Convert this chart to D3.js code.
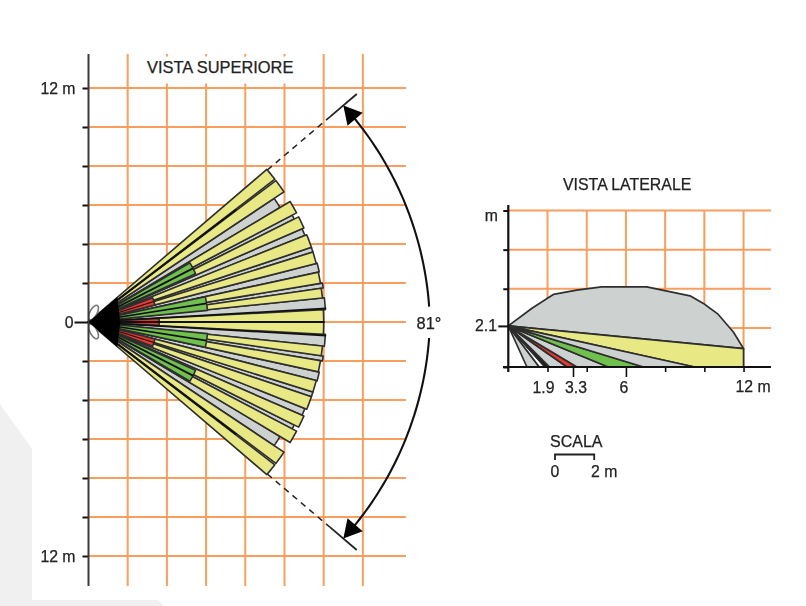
<!DOCTYPE html>
<html>
<head>
<meta charset="utf-8">
<style>
  html, body { margin: 0; padding: 0; background: #fff; }
  svg { display: block; filter: blur(0.6px); }
  text { font-family: "Liberation Sans", Arial, sans-serif; fill: #222; stroke: #222; stroke-width: 0.25px; }
</style>
</head>
<body>
<div class="chart"></div>
<script src="https://cdnjs.cloudflare.com/ajax/libs/d3/7.8.5/d3.min.js"></script>
<script>
// values, metres and degrees
const yellowBeams = [[0, 3, 12], [5.9, 8.3, 12], [9.5, 12.3, 12], [14.5, 17.4, 12], [18.6, 21.9, 12],
  [23.7, 26.7, 12], [27.8, 31, 12], [33.8, 37.2, 12], [37.6, 40.7, 12]];
const greyBeams = [[3, 5.9, 12.1], [8.3, 9.5, 12.1], [12.3, 14.5, 12.05], [17.4, 18.6, 12],
  [21.9, 23.7, 11.9], [26.7, 27.8, 11.75], [31, 33.8, 11.4]];
const greenBeams = [[5.6, 12.3, 6.1], [24.4, 30.4, 6]];
const redBeams = [[-2.8, 2.6, 3.6], [14.5, 20.8, 3.5]];
const darkRays = [[0, 12.05, 1.9], [3.3, 12.15, 1.6], [9, 6.1, 1.6], [27.3, 6, 1.8], [17.5, 3.5, 1.2], [37.4, 9.5, 1.8]];
const topYTicks = [-12, -10, -8, -6, -4, -2, 0, 2, 4, 6, 8, 10, 12];
const topXGrid = [2, 4, 6, 8, 10, 12, 14];
const coverAngle = 40.5;

const capOutline = [[0, 2.1], [1.19, 2.99], [2.3, 3.71], [3.49, 3.93], [4.76, 4.1], [7.06, 4.1],
  [9.27, 3.64], [9.95, 3.25], [10.7, 2.7], [11.48, 1.79], [12, 0.94]];
const groundBands = [
  { from: 0.95, to: 1.58, color: "#cdd2d0" },
  { from: 1.58, to: 1.87, color: "#ffffff" },
  { from: 1.87, to: 2.1, color: "#1a1a1a" },
  { from: 2.1, to: 3.0, color: "#cdd2d0" },
  { from: 3.0, to: 3.5, color: "#e8392f" },
  { from: 3.5, to: 5.1, color: "#cdd2d0" },
  { from: 5.1, to: 6.9, color: "#6fc04c" },
  { from: 6.9, to: 9.5, color: "#cdd2d0" },
];
const sideYTicks = [0, 2.1, 4, 6, 8];
const sideXTicks = [2, 4, 6, 8, 10, 12];
const sideXLabels = [1.9, 3.3, 6];
const sideApexHeight = 2.1;

const orange = "#f99e5e";
const dark = "#2e2e2e";
const labelSize = 15.8;

const svg = d3.select(".chart").append("svg").attr("width", 806).attr("height", 606);

// pale page shapes behind the drawing
svg.append("path")
  .attr("d", "M0,404L32,449L32,600L158,600L164,606L0,606Z")
  .attr("fill", "#f0f0f0");

// ---- top view
const topX = d3.scaleLinear().domain([0, 16.2]).range([88.5, 406]);
const topY = d3.scaleLinear().domain([-12, 12]).range([556, 88]);

const polar = (deg, r) => [topX(r * Math.cos(deg * Math.PI / 180)), topY(r * Math.sin(deg * Math.PI / 180))];
const lineGen = d3.line();

function wedgePath(a0, a1, r) {
  // apex, then the arc out at radius r
  const steps = d3.range(0, 7).map((i) => a0 + (a1 - a0) * i / 6);
  return lineGen([polar(0, 0)].concat(steps.map((a) => polar(a, r)))) + "Z";
}

const topGrid = svg.append("g").attr("stroke", orange).attr("stroke-width", 2);
topGrid.selectAll("line.h").data(topYTicks).join("line").attr("class", "h")
  .attr("x1", topX(0)).attr("x2", topX.range()[1])
  .attr("y1", (d) => topY(d)).attr("y2", (d) => topY(d));
topGrid.selectAll("line.v").data(topXGrid).join("line").attr("class", "v")
  .attr("x1", (d) => topX(d)).attr("x2", (d) => topX(d))
  .attr("y1", 54).attr("y2", 586);

// title sits on a white patch that cuts the grid
svg.append("rect").attr("x", 142).attr("y", 56.5).attr("width", 158).attr("height", 27).attr("fill", "#fff");
svg.append("text").attr("x", 147).attr("y", 73).attr("font-size", 16.4).text("VISTA SUPERIORE");

// both halves of the fan are mirrored
const mirrored = (list) => list.concat(list.map((b) => [-b[1], -b[0], b[2]]));

function drawBeams(list, color) {
  svg.append("g").selectAll("path").data(mirrored(list)).join("path")
    .attr("d", (d) => wedgePath(d[0], d[1], d[2]))
    .attr("fill", color)
    .attr("stroke", dark)
    .attr("stroke-width", 1.6)
    .attr("stroke-linejoin", "round");
}
drawBeams(greyBeams, "#cdd2d0");
drawBeams(yellowBeams, "#e8e884");
drawBeams(greenBeams, "#6fc04c");
drawBeams(redBeams, "#e8392f");

// dark lines inside the fan
svg.append("g").selectAll("line")
  .data(darkRays.concat(darkRays.filter((d) => d[0] !== 0).map((d) => [-d[0], d[1], d[2]])))
  .join("line")
  .attr("x1", polar(0, 0)[0]).attr("y1", polar(0, 0)[1])
  .attr("x2", (d) => polar(d[0], d[1])[0]).attr("y2", (d) => polar(d[0], d[1])[1])
  .attr("stroke", "#111").attr("stroke-width", (d) => d[2]);

// sensor lobes and the solid black apex
svg.append("g").selectAll("ellipse").data([62, -62]).join("ellipse")
  .attr("cx", (d) => polar(d, 0.55)[0]).attr("cy", (d) => polar(d, 0.55)[1])
  .attr("rx", 8).attr("ry", 3.6)
  .attr("transform", (d) => `rotate(${-d} ${polar(d, 0.55)[0]} ${polar(d, 0.55)[1]})`)
  .attr("fill", "#fff").attr("stroke", "#777").attr("stroke-width", 1.6);
svg.append("path")
  .attr("d", lineGen([polar(0, 0), polar(41, 1.95), polar(0, 1.62), polar(-41, 1.95)]) + "Z")
  .attr("fill", "#000");

// y axis of the top view
const topAxis = svg.append("g").attr("transform", `translate(${topX(0)},0)`)
  .call(d3.axisLeft(topY).tickValues(topYTicks).tickSize(6)
    .tickFormat((d) => (d === 0 ? "0" : Math.abs(d) === 12 ? "12 m" : "")));
topAxis.select(".domain").remove();
topAxis.selectAll(".tick line").attr("stroke", "#111").attr("stroke-width", 2)
  .attr("x2", (d) => (d === 0 ? -14 : -6));
topAxis.selectAll(".tick text")
  .attr("x", (d) => (d === 0 ? -15 : -13))
  .attr("font-size", labelSize).attr("fill", "#222")
  .style("font-family", '"Liberation Sans", Arial, sans-serif');
svg.append("line").attr("x1", topX(0)).attr("x2", topX(0)).attr("y1", 54).attr("y2", 586)
  .attr("stroke", "#3a3a3a").attr("stroke-width", 2);

// coverage limits: dashed then solid, out to the arrow heads
[coverAngle, -coverAngle].forEach((a) => {
  svg.append("line")
    .attr("x1", polar(a, 12)[0]).attr("y1", polar(a, 12)[1])
    .attr("x2", polar(a, 16.2)[0]).attr("y2", polar(a, 16.2)[1])
    .attr("stroke", "#222").attr("stroke-width", 1.5).attr("stroke-dasharray", "6 5");
  svg.append("line")
    .attr("x1", polar(a, 16.2)[0]).attr("y1", polar(a, 16.2)[1])
    .attr("x2", polar(a, 18)[0]).attr("y2", polar(a, 18)[1])
    .attr("stroke", "#222").attr("stroke-width", 1.8);
});

// 81 degree arc, broken around its label; it bulges a little past a true circle at mid height
const arcRadius = (deg) => 17.1 + 0.32 * (1 - Math.abs(deg) / coverAngle);
[[38, 2.6], [-2.7, -38]].forEach((span) => {
  const pts = d3.range(0, 41).map((i) => {
    const a = span[0] + (span[1] - span[0]) * i / 40;
    return polar(a, arcRadius(a));
  });
  svg.append("path").attr("d", lineGen(pts)).attr("fill", "none").attr("stroke", "#111").attr("stroke-width", 2.1);
});

// arrow heads point along the arc towards the limit lines
[1, -1].forEach((side) => {
  const tip = polar(side * coverAngle, arcRadius(coverAngle));
  const base = polar(side * (coverAngle - 3.1), arcRadius(coverAngle - 3.1));
  const dx = tip[0] - base[0];
  const dy = tip[1] - base[1];
  const len = Math.hypot(dx, dy);
  const nx = -dy / len * 10;
  const ny = dx / len * 10;
  svg.append("path")
    .attr("d", lineGen([tip, [base[0] + nx, base[1] + ny], [base[0] - nx, base[1] - ny]]) + "Z")
    .attr("fill", "#000");
});

svg.append("text").attr("x", 429).attr("y", 328.5).attr("text-anchor", "middle")
  .attr("font-size", 16.4).text("81°");

// ---- side view
const sideX = d3.scaleLinear().domain([0, 13.4]).range([508.3, 771]);
const sideY = d3.scaleLinear().domain([0, 8]).range([367, 210.5]);
const sidePt = (d) => [sideX(d[0]), sideY(d[1])];

svg.append("text").attr("x", 563).attr("y", 190).attr("font-size", 15.9).text("VISTA LATERALE");

const sideGrid = svg.append("g").attr("stroke", orange).attr("stroke-width", 2);
sideGrid.selectAll("line.h").data([2, 4, 6, 8]).join("line").attr("class", "h")
  .attr("x1", sideX(0)).attr("x2", sideX.range()[1])
  .attr("y1", (d) => sideY(d)).attr("y2", (d) => sideY(d));
sideGrid.selectAll("line.v").data(sideXTicks).join("line").attr("class", "v")
  .attr("x1", (d) => sideX(d)).attr("x2", (d) => sideX(d))
  .attr("y1", sideY(8)).attr("y2", sideY(0));

const last = capOutline[capOutline.length - 1];
const sideStroke = (sel) => sel.attr("stroke", dark).attr("stroke-width", 1.7).attr("stroke-linejoin", "round");

svg.append("path").attr("d", lineGen(capOutline.map(sidePt)) + "Z").attr("fill", "#cdd2d0").call(sideStroke);
svg.append("path")
  .attr("d", lineGen([[0, sideApexHeight], last, [last[0], 0], [9.5, 0]].map(sidePt)) + "Z")
  .attr("fill", "#e8e884").call(sideStroke);
svg.append("g").selectAll("path").data(groundBands).join("path")
  .attr("d", (d) => lineGen([[0, sideApexHeight], [d.from, 0], [d.to, 0]].map(sidePt)) + "Z")
  .attr("fill", (d) => d.color)
  .call(sideStroke);

const sideAxisY = svg.append("g").attr("transform", `translate(${sideX(0)},0)`)
  .call(d3.axisLeft(sideY).tickValues(sideYTicks).tickSize(5).tickFormat(""));
sideAxisY.select(".domain").remove();
sideAxisY.selectAll(".tick line").attr("stroke", "#111").attr("stroke-width", 2)
  .attr("x2", (d) => (d === sideApexHeight ? -10 : -5));
svg.append("line").attr("x1", sideX(0)).attr("x2", sideX(0)).attr("y1", 205).attr("y2", 372)
  .attr("stroke", "#111").attr("stroke-width", 2.2);

const sideAxisX = svg.append("g").attr("transform", `translate(0,${sideY(0)})`)
  .call(d3.axisBottom(sideX).tickValues(sideXTicks.concat([3.3])).tickSize(5).tickFormat(""));
sideAxisX.select(".domain").remove();
sideAxisX.selectAll(".tick line").attr("stroke", "#111").attr("stroke-width", 1.6)
  .attr("y2", (d) => (d === 3.3 || d === 6 ? 10 : 5));
svg.append("line").attr("x1", 503).attr("x2", sideX.range()[1]).attr("y1", sideY(0)).attr("y2", sideY(0))
  .attr("stroke", "#111").attr("stroke-width", 2.2);

svg.append("g").selectAll("text").data(sideXLabels).join("text")
  .attr("x", (d) => sideX(d) + (d === 1.9 ? -2 : d === 6 ? -2 : 3))
  .attr("y", 393).attr("text-anchor", "middle").attr("font-size", labelSize)
  .text((d) => d);
svg.append("text").attr("x", sideX(12) - 8).attr("y", 392).attr("font-size", labelSize).text("12 m");
svg.append("text").attr("x", 498).attr("y", 221).attr("text-anchor", "end").attr("font-size", labelSize).text("m");
svg.append("text").attr("x", 497).attr("y", 331).attr("text-anchor", "end").attr("font-size", labelSize).text("2.1");

// scale bar
const barLeft = 555;
const barWidth = sideX(2) - sideX(0);
svg.append("text").attr("x", 550).attr("y", 447).attr("font-size", 16).text("SCALA");
svg.append("path")
  .attr("d", lineGen([[barLeft, 460], [barLeft, 454.5], [barLeft + barWidth, 454.5], [barLeft + barWidth, 460]]))
  .attr("fill", "none").attr("stroke", "#222").attr("stroke-width", 1.8);
svg.append("text").attr("x", 555).attr("y", 477).attr("text-anchor", "middle").attr("font-size", labelSize).text("0");
svg.append("text").attr("x", 591).attr("y", 477).attr("font-size", labelSize).text("2 m");
</script>
</body>
</html>
